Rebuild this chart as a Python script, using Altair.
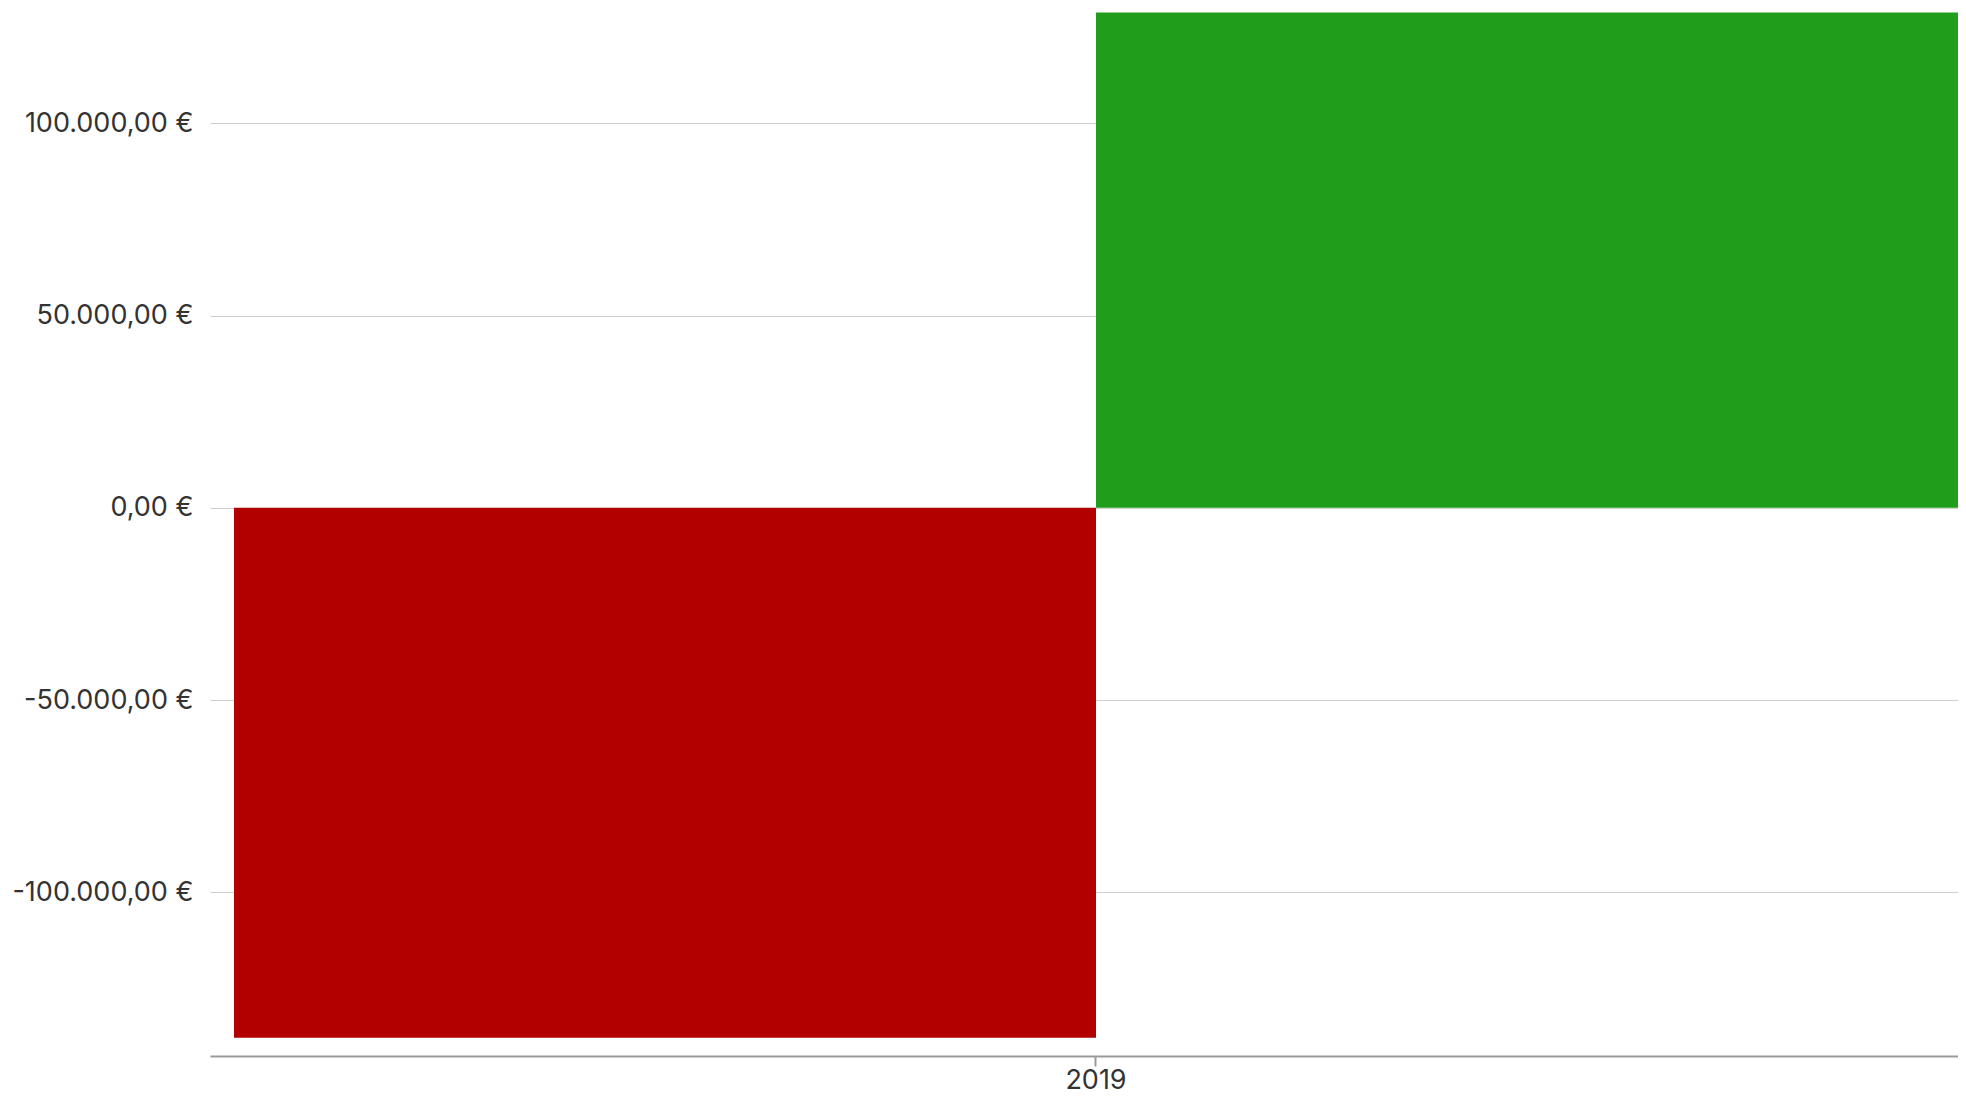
import altair as alt
import pandas as pd

years = ["2019", "2019"]
kinds = ["Ausgaben", "Einnahmen"]
values = [-137800, 128800]
colors = ["#b20000", "#1f9d1b"]
y_ticks = [-100000, -50000, 0, 50000, 100000]

df = pd.DataFrame({"year": years, "kind": kinds, "value": values})

label_expr = ("replace(replace(replace(replace(format(datum.value, ',.2f'), ',', '_'), '.', ','), '_', '.'), '\u2212', '-') + ' \u20ac'")

chart = alt.Chart(df).mark_bar().encode(
    x=alt.X("year:N", title=None,
            scale=alt.Scale(paddingInner=0, paddingOuter=0.00696, align=1),
            axis=alt.Axis(labelAngle=0, domainColor="#9a9a9a", domainWidth=2,
                          tickColor="#9a9a9a", tickWidth=2, tickSize=10,
                          labelFontSize=27, labelColor="#333333", labelFont="Inter",
                          labelPadding=1, grid=False)),
    xOffset=alt.XOffset("kind:N", scale=alt.Scale(paddingInner=0, paddingOuter=0)),
    y=alt.Y("value:Q", title=None,
            scale=alt.Scale(domain=[-142560, 130000], nice=False, zero=False),
            axis=alt.Axis(values=y_ticks, labelExpr=label_expr, domain=False, ticks=False,
                          gridColor="#d0d0d0", gridWidth=1, labelLimit=400,
                          labelFontSize=27, labelColor="#333333", labelFont="Inter",
                          labelPadding=17, minExtent=202, maxExtent=202)),
    color=alt.Color("kind:N", scale=alt.Scale(domain=kinds, range=colors), legend=None),
).properties(width=1748, height=1048,
             padding={"left": 0, "top": 0, "right": 0, "bottom": 3}).configure_view(stroke=None)

chart.save("out.html", embed_options={"renderer": "svg", "actions": False})
